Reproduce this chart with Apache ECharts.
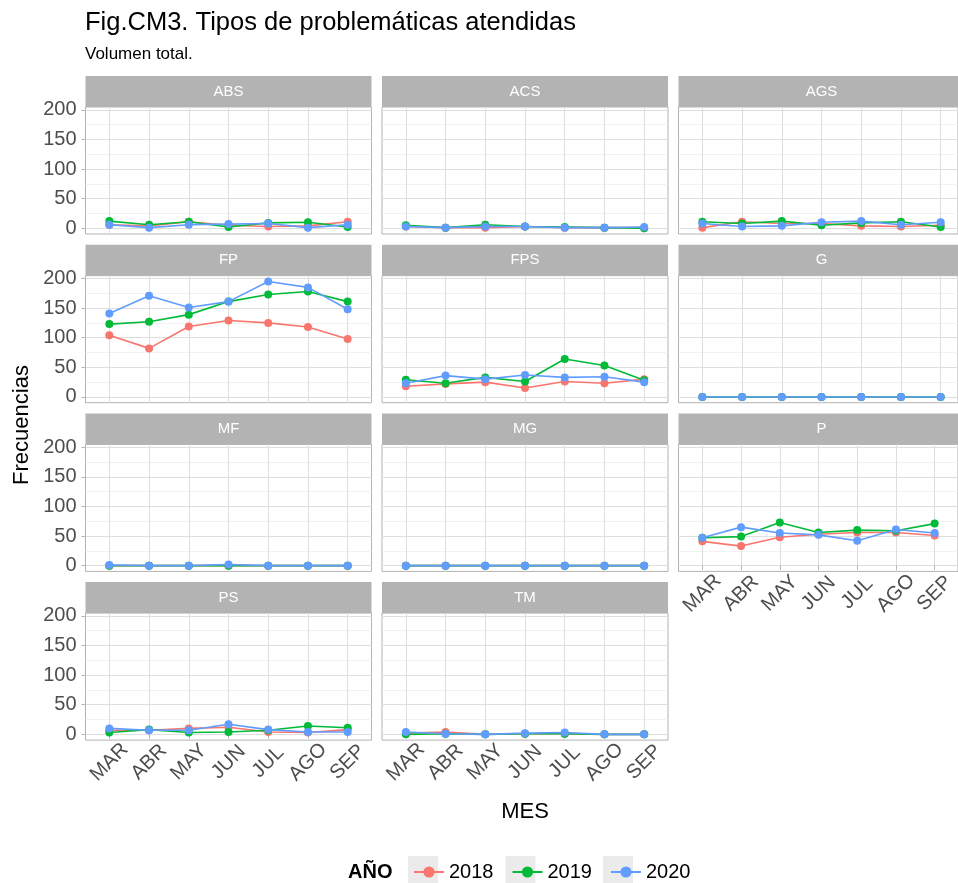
<!DOCTYPE html>
<html>
<head>
<meta charset="utf-8">
<script src="https://cdn.jsdelivr.net/npm/echarts@6/dist/echarts.min.js"></script>
<style>
  html, body { margin: 0; padding: 0; background: #fff; }
  #chart { width: 958px; height: 883px; }
</style>
</head>
<body>
<div id="chart"></div>
<script>
const months = ['MAR', 'ABR', 'MAY', 'JUN', 'JUL', 'AGO', 'SEP']
const years = ['2018', '2019', '2020']
const colors = ['#F8766D', '#00BA38', '#619CFF']
const facets = ['ABS', 'ACS', 'AGS', 'FP', 'FPS', 'G', 'MF', 'MG', 'P', 'PS', 'TM']
const yTicks = [0, 50, 100, 150, 200]

// each facet: [2018, 2019, 2020]
const ABS = [[6, 4, 11, 5, 3, 4, 11], [12, 6, 11, 2, 9, 10, 2], [6, 1, 6, 7, 8, 1, 6]]
const ACS = [[3, 1, 1, 3, 1, 1, 1], [5, 1, 6, 3, 2, 1, 0], [3, 1, 3, 3, 1, 1, 2]]
const AGS = [[1, 11, 8, 8, 4, 3, 5], [11, 8, 12, 5, 9, 11, 2], [8, 3, 4, 10, 12, 6, 10]]
const FP = [[104, 82, 119, 129, 125, 118, 98], [123, 127, 139, 161, 173, 178, 161], [141, 171, 151, 161, 195, 185, 148]]
const FPS = [[18, 22, 25, 15, 26, 23, 30], [29, 23, 33, 26, 64, 53, 28], [23, 36, 30, 37, 33, 34, 25]]
const G = [[0, 0, 0, 0, 0, 0, 0], [0, 0, 0, 0, 0, 0, 0], [0, 0, 0, 0, 0, 0, 0]]
const MF = [[0, 0, 0, 0, 0, 0, 0], [0, 0, 0, 0, 0, 0, 0], [1, 0, 0, 2, 0, 0, 0]]
const MG = [[0, 0, 0, 0, 0, 0, 0], [0, 0, 0, 0, 0, 0, 0], [0, 0, 0, 0, 0, 0, 0]]
const P = [[41, 33, 48, 53, 56, 56, 51], [47, 49, 73, 56, 60, 59, 71], [47, 65, 55, 52, 42, 61, 55]]
const PS = [[7, 7, 10, 12, 4, 3, 8], [3, 8, 3, 4, 7, 14, 11], [10, 7, 7, 17, 8, 4, 4]]
const TM = [[2, 4, 0, 1, 1, 0, 0], [0, 1, 0, 1, 1, 0, 0], [4, 1, 0, 2, 3, 0, 0]]

const facetData = { ABS, ACS, AGS, FP, FPS, G, MF, MG, P, PS, TM }

const font = 'Liberation Sans, Arial, sans-serif'
const W = 286           // panel width
const H = 127           // panel height
const yMin = -9.75      // ggplot expansion
const yMax = 204.75
const S = H / (yMax - yMin)
const stripH = 31
const panelLeft = c => 85.5 + c * 296.5
const panelTop = r => 107 + r * 168.7

const grid = []
const xAxis = []
const yAxis = []
const series = []
const graphic = []

facets.forEach((name, i) => {
  const r = Math.floor(i / 3)
  const c = i % 3
  const left = panelLeft(c)
  const top = panelTop(r)
  const showX = i + 3 >= facets.length
  const showY = c === 0

  // strip
  graphic.push({
    type: 'rect',
    shape: { x: left, y: top - stripH, width: W, height: stripH },
    style: { fill: '#b3b3b3' },
    silent: true
  })
  graphic.push({
    type: 'text',
    x: left + W / 2,
    y: top - stripH / 2,
    style: { text: name, fill: '#fff', fontSize: 15, fontFamily: font, textAlign: 'center', textVerticalAlign: 'middle' },
    silent: true
  })

  // panel border
  const g0 = grid.length
  grid.push({ left: left, top: top, width: W, height: H, show: true, borderColor: '#b3b3b3', borderWidth: 1, backgroundColor: 'transparent' })
  xAxis.push({ gridIndex: g0, type: 'value', show: false })
  yAxis.push({ gridIndex: g0, type: 'value', show: false })

  // horizontal grid lines + y labels
  const g1 = grid.length
  grid.push({ left: left, top: top + (yMax - 200) * S, width: W, height: 200 * S })
  xAxis.push({ gridIndex: g1, type: 'value', show: false })
  yAxis.push({
    gridIndex: g1,
    type: 'value',
    min: yTicks[0],
    max: yTicks[yTicks.length - 1],
    interval: 50,
    axisLine: { show: false },
    axisTick: { show: showY, length: 4, lineStyle: { color: '#b3b3b3' } },
    axisLabel: { show: showY, fontSize: 20, color: '#4d4d4d', fontFamily: font, margin: 9 },
    splitLine: { show: true, lineStyle: { color: '#dedede', width: 1 } },
    minorTick: { show: false, splitNumber: 2 },
    minorSplitLine: { show: true, lineStyle: { color: '#ededed', width: 0.7 } }
  })

  // data grid
  const step = W / 7.2
  const g2 = grid.length
  grid.push({ left: left + 0.6 * step, top: top, width: 6 * step, height: H })
  xAxis.push({
    gridIndex: g2,
    type: 'category',
    data: months,
    boundaryGap: false,
    axisLine: { show: false },
    axisTick: { show: showX, length: 4, lineStyle: { color: '#b3b3b3' } },
    axisLabel: {
      show: showX, rotate: 45, interval: 0, fontSize: 20, color: '#4d4d4d', fontFamily: font,
      align: 'center', verticalAlign: 'middle', margin: 22
    },
    splitLine: { show: true, lineStyle: { color: '#dedede', width: 1 } }
  })
  yAxis.push({ gridIndex: g2, type: 'value', min: yMin, max: yMax, show: false })

  facetData[name].forEach((vals, k) => {
    series.push({
      name: years[k],
      type: 'line',
      xAxisIndex: g2,
      yAxisIndex: g2,
      data: vals,
      symbol: 'circle',
      symbolSize: 8,
      color: colors[k],
      lineStyle: { width: 1.6, color: colors[k] },
      itemStyle: { color: colors[k] },
      z: 3 + k
    })
  })
})

// legend key backgrounds
const keyLeft = [408, 505.5, 603]
keyLeft.forEach(x => {
  graphic.push({
    type: 'rect',
    shape: { x: x, y: 856, width: 30, height: 30 },
    style: { fill: '#ebebeb' },
    silent: true,
    z: 0
  })
})

// axis titles + legend title
graphic.push({
  type: 'text',
  x: 22, y: 425, rotation: Math.PI / 2,
  style: { text: 'Frecuencias', fill: '#000', fontSize: 22, fontFamily: font, textAlign: 'center', textVerticalAlign: 'middle' }
})
graphic.push({
  type: 'text',
  x: 525, y: 812,
  style: { text: 'MES', fill: '#000', fontSize: 22, fontFamily: font, textAlign: 'center', textVerticalAlign: 'middle' }
})
graphic.push({
  type: 'text',
  x: 348, y: 872,
  style: { text: 'AÑO', fill: '#000', fontSize: 20, fontWeight: 'bold', fontFamily: font, textVerticalAlign: 'middle' }
})

const chart = echarts.init(document.getElementById('chart'), null, { renderer: 'canvas' })
chart.setOption({
  animation: false,
  backgroundColor: '#fff',
  title: {
    text: 'Fig.CM3. Tipos de problemáticas atendidas',
    subtext: 'Volumen total.',
    left: 80,
    top: 5,
    itemGap: 10,
    textStyle: { fontSize: 25.5, fontWeight: 'normal', color: '#000', fontFamily: font },
    subtextStyle: { fontSize: 17, color: '#000', fontFamily: font }
  },
  legend: {
    data: years,
    left: 408,
    top: 857,
    itemWidth: 30,
    itemHeight: 14,
    itemGap: 18,
    z: 5,
    textStyle: { fontSize: 20, color: '#000', fontFamily: font }
  },
  grid: grid,
  xAxis: xAxis,
  yAxis: yAxis,
  series: series,
  graphic: graphic
})
</script>
</body>
</html>
